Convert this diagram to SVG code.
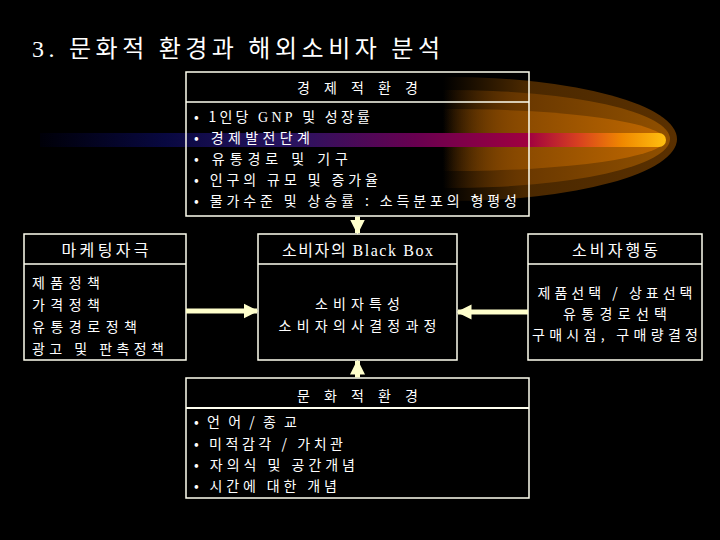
<svg xmlns="http://www.w3.org/2000/svg" width="720" height="540" viewBox="0 0 720 540">
<defs>
<linearGradient id="streak" gradientUnits="userSpaceOnUse" x1="40" y1="0" x2="666" y2="0">
<stop offset="0" stop-color="#000008"/>
<stop offset="0.2" stop-color="#080840"/>
<stop offset="0.4" stop-color="#281460"/>
<stop offset="0.6" stop-color="#680050"/>
<stop offset="0.78" stop-color="#a00040"/>
<stop offset="0.86" stop-color="#d84020"/>
<stop offset="0.93" stop-color="#f08800"/>
<stop offset="1" stop-color="#ffc010"/>
</linearGradient>
<linearGradient id="g1" gradientUnits="userSpaceOnUse" x1="443" y1="0" x2="677" y2="0">
<stop offset="0" stop-color="#4a2800" stop-opacity="0"/>
<stop offset="0.35" stop-color="#4a2800"/>
<stop offset="1" stop-color="#5a3000"/>
</linearGradient>
<linearGradient id="g2" gradientUnits="userSpaceOnUse" x1="443" y1="0" x2="670" y2="0">
<stop offset="0" stop-color="#6a3800" stop-opacity="0"/>
<stop offset="0.35" stop-color="#6a3800"/>
<stop offset="1" stop-color="#905000"/>
</linearGradient>
<linearGradient id="g3" gradientUnits="userSpaceOnUse" x1="443" y1="0" x2="665" y2="0">
<stop offset="0" stop-color="#8a4a00" stop-opacity="0"/>
<stop offset="0.35" stop-color="#8a4a00"/>
<stop offset="1" stop-color="#c06800"/>
</linearGradient>
<marker id="ah" viewBox="0 0 10 10" refX="9" refY="5" markerWidth="3" markerHeight="3.2" orient="auto" markerUnits="strokeWidth">
<path d="M0,0 L10,5 L0,10 Z" fill="#ffffcc"/>
</marker>
</defs>
<style>
.box{fill:none;stroke:#fffff0;stroke-width:1.5}
.t{font-family:"Noto Sans CJK KR","Liberation Sans",sans-serif;fill:#ffffff;font-size:14px}
.hd{font-size:16px}
.h{text-anchor:middle}
.s{font-family:"Liberation Serif",serif}
.conn{stroke:#ffffcc;stroke-width:5;fill:none}
</style>
<rect width="720" height="540" fill="#000"/>
<g id="decoration">
<ellipse cx="450" cy="139" rx="227" ry="62" fill="url(#g1)"/>
<ellipse cx="450" cy="139" rx="220" ry="49" fill="url(#g2)"/>
<ellipse cx="450" cy="140" rx="215" ry="31" fill="url(#g3)"/>
<path d="M40,133 H659 A7,7 0 0 1 659,147 H40 Z" fill="url(#streak)"/>
</g>
<g id="title">
<text x="32" y="57" class="t" style="font-size:24px" textLength="408" lengthAdjust="spacing"><tspan class="s">3.</tspan> 문화적 환경과 해외소비자 분석</text>
</g>
<g id="economic">
<rect class="box" x="186" y="72" width="343" height="144"/>
<line class="box" x1="186" y1="102" x2="529" y2="102"/>
<text class="t h" x="357.5" y="93" textLength="121" lengthAdjust="spacing">경 제 적 환 경</text>
<text class="t" x="194" y="122" textLength="176" lengthAdjust="spacing">• 1인당 <tspan class="s">GNP</tspan> 및 성장률</text>
<text class="t" x="194" y="143" textLength="116" lengthAdjust="spacing">• 경제발전단계</text>
<text class="t" x="194" y="164" textLength="154" lengthAdjust="spacing">• 유통경로 및 기구</text>
<text class="t" x="194" y="185" textLength="184" lengthAdjust="spacing">• 인구의 규모 및 증가율</text>
<text class="t" x="194" y="206" textLength="323" lengthAdjust="spacing">• 물가수준 및 상승률 : 소득분포의 형평성</text>
</g>
<g id="marketing">
<rect class="box" x="24" y="234" width="162" height="126"/>
<line class="box" x1="24" y1="264" x2="186" y2="264"/>
<text class="t hd h" x="105" y="256" textLength="87" lengthAdjust="spacing">마케팅자극</text>
<text class="t" x="32" y="288" textLength="68" lengthAdjust="spacing">제품정책</text>
<text class="t" x="32" y="310" textLength="68" lengthAdjust="spacing">가격정책</text>
<text class="t" x="32" y="332" textLength="105" lengthAdjust="spacing">유통경로정책</text>
<text class="t" x="32" y="354" textLength="132" lengthAdjust="spacing">광고 및 판촉정책</text>
</g>
<g id="blackbox">
<rect class="box" x="258" y="234" width="199" height="126"/>
<line class="box" x1="258" y1="264" x2="457" y2="264"/>
<text class="t hd h" x="357.5" y="256" textLength="151" lengthAdjust="spacing">소비자의 <tspan class="s">Black Box</tspan></text>
<text class="t h" x="357.5" y="309" textLength="85" lengthAdjust="spacing">소비자특성</text>
<text class="t h" x="357.5" y="331" textLength="158" lengthAdjust="spacing">소비자의사결정과정</text>
</g>
<g id="behavior">
<rect class="box" x="528" y="234" width="174" height="126"/>
<line class="box" x1="528" y1="264" x2="702" y2="264"/>
<text class="t hd h" x="615" y="256" textLength="86" lengthAdjust="spacing">소비자행동</text>
<text class="t h" x="615" y="298" textLength="155" lengthAdjust="spacing">제품선택 / 상표선택</text>
<text class="t h" x="615" y="319" textLength="104" lengthAdjust="spacing">유통경로선택</text>
<text class="t h" x="615" y="340" textLength="166" lengthAdjust="spacing">구매시점, 구매량결정</text>
</g>
<g id="cultural">
<rect class="box" x="186" y="378" width="343" height="120"/>
<line class="box" x1="186" y1="408" x2="529" y2="408" style="stroke-width:2"/>
<text class="t h" x="357.5" y="401" textLength="121" lengthAdjust="spacing">문 화 적 환 경</text>
<text class="t" x="194" y="427" textLength="103" lengthAdjust="spacing">• 언 어 / 종 교</text>
<text class="t" x="194" y="449" textLength="149" lengthAdjust="spacing">• 미적감각 / 가치관</text>
<text class="t" x="194" y="470" textLength="161" lengthAdjust="spacing">• 자의식 및 공간개념</text>
<text class="t" x="194" y="491" textLength="143" lengthAdjust="spacing">• 시간에 대한 개념</text>
</g>
<g id="connectors">
<line class="conn" x1="186" y1="311" x2="257" y2="311" marker-end="url(#ah)"/>
<line class="conn" x1="528" y1="312" x2="458" y2="312" marker-end="url(#ah)"/>
<line class="conn" x1="357.5" y1="216.5" x2="357.5" y2="233" marker-end="url(#ah)"/>
<line class="conn" x1="357.5" y1="377.5" x2="357.5" y2="361" marker-end="url(#ah)"/>
</g>
</svg>
